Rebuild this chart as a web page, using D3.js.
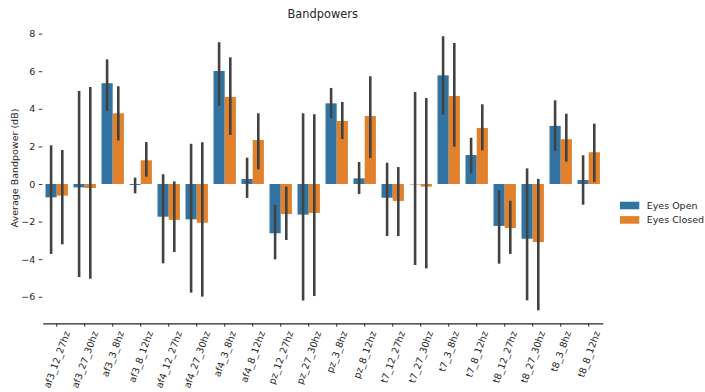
<!DOCTYPE html>
<html>
<head>
<meta charset="utf-8">
<script src="https://cdnjs.cloudflare.com/ajax/libs/d3/7.8.5/d3.min.js"></script>
<style>
  body { margin: 0; background: #fff; }
  svg text { font-family: "DejaVu Sans", sans-serif; fill: #262626; }
</style>
</head>
<body>
<svg id="chart"></svg>
<script>
const width = 705;
const height = 392;

const categories = ["af3_12_27hz", "af3_27_30hz", "af3_3_8hz", "af3_8_12hz",
    "af4_12_27hz", "af4_27_30hz", "af4_3_8hz", "af4_8_12hz",
    "pz_12_27hz", "pz_27_30hz", "pz_3_8hz", "pz_8_12hz",
    "t7_12_27hz", "t7_27_30hz", "t7_3_8hz", "t7_8_12hz",
    "t8_12_27hz", "t8_27_30hz", "t8_3_8hz", "t8_8_12hz"];
const series = ["Eyes Open", "Eyes Closed"];
const colors = ["#3274a1", "#e1812c"];

// mean values
const openMean   = [-0.71, -0.18, 5.36, -0.05, -1.74, -1.88, 6.01, 0.27, -2.62, -1.63, 4.29, 0.30, -0.73, -0.02, 5.78, 1.54, -2.23, -2.91, 3.09, 0.21];
const closedMean = [-0.62, -0.21, 3.76, 1.26, -1.91, -2.06, 4.63, 2.34, -1.60, -1.54, 3.35, 3.62, -0.90, -0.14, 4.68, 2.98, -2.34, -3.09, 2.38, 1.69];
// confidence intervals
const openLow    = [-3.72, -4.95, 3.88, -0.50, -4.22, -5.78, 4.15, -0.74, -4.01, -6.20, 3.49, -0.53, -2.77, -4.31, 3.69, 0.55, -4.24, -6.19, 1.76, -1.10];
const openHigh   = [2.06, 4.95, 6.63, 0.34, 0.52, 2.14, 7.54, 1.40, -1.10, 3.76, 5.11, 1.17, 1.13, 4.89, 7.86, 2.46, -0.32, 0.83, 4.45, 1.53];
const closedLow  = [-3.21, -5.04, 2.32, 0.39, -3.62, -5.99, 2.61, 0.78, -2.98, -5.96, 2.39, 1.38, -2.77, -4.49, 1.98, 1.79, -3.72, -6.72, 1.19, 0.11];
const closedHigh = [1.81, 5.16, 5.20, 2.23, 0.14, 2.22, 6.74, 3.76, -0.14, 3.71, 4.36, 5.73, 0.90, 4.57, 7.50, 4.24, -0.89, 0.27, 3.74, 3.21];

const yTicks = [-6, -4, -2, 0, 2, 4, 6, 8];

const svg = d3.select("#chart")
    .attr("width", width)
    .attr("height", height);

const x = d3.scaleBand()
    .domain(categories)
    .range([42.7, 602.7])
    .padding(0);

const y = d3.scaleLinear()
    .domain([-7.41, 8.3])
    .range([323.3, 27.96]);

const hue = d3.scaleBand()
    .domain(series)
    .range([0, x.bandwidth() * 0.8]);

const rows = [];
categories.forEach((c, i) => {
    rows.push({cat: c, s: series[0], v: openMean[i], lo: openLow[i], hi: openHigh[i]});
    rows.push({cat: c, s: series[1], v: closedMean[i], lo: closedLow[i], hi: closedHigh[i]});
});
const offset = x.bandwidth() * 0.1;

// bars
svg.append("g")
    .selectAll("rect")
    .data(rows)
    .join("rect")
    .attr("x", d => x(d.cat) + offset + hue(d.s))
    .attr("width", hue.bandwidth())
    .attr("y", d => y(Math.max(0, d.v)))
    .attr("height", d => Math.abs(y(d.v) - y(0)))
    .attr("fill", d => colors[series.indexOf(d.s)]);

// error bars
svg.append("g")
    .selectAll("line")
    .data(rows)
    .join("line")
    .attr("x1", d => x(d.cat) + offset + hue(d.s) + hue.bandwidth() / 2)
    .attr("x2", d => x(d.cat) + offset + hue(d.s) + hue.bandwidth() / 2)
    .attr("y1", d => y(d.lo))
    .attr("y2", d => y(d.hi))
    .attr("stroke", "#424242")
    .attr("stroke-width", 2.6);

// y axis (no spine)
const yAxis = svg.append("g")
    .attr("transform", "translate(42.3,0)")
    .call(d3.axisLeft(y).tickValues(yTicks).tickSize(3.5).tickPadding(3.5)
        .tickFormat(d => String(d).replace("-", "\u2212")));
yAxis.select(".domain").remove();
yAxis.selectAll("line").attr("stroke", "#262626").attr("stroke-width", 0.9);
yAxis.selectAll("text").attr("font-size", "9.5px").attr("fill", "#262626")
    .style("font-family", "'DejaVu Sans', sans-serif");

// x axis
const xAxis = svg.append("g")
    .attr("transform", "translate(0,323.3)")
    .call(d3.axisBottom(x).tickSize(3.5).tickSizeOuter(0));
xAxis.select(".domain").attr("stroke", "#262626").attr("stroke-width", 1.2);
xAxis.selectAll("line").attr("stroke", "#262626").attr("stroke-width", 0.9);
xAxis.selectAll("text").remove();

const angle = 70;
const rad = angle * Math.PI / 180;
const labels = svg.append("g")
    .selectAll("g")
    .data(categories)
    .join("g");
labels.append("text")
    .attr("text-anchor", "middle")
    .attr("dominant-baseline", "central")
    .attr("font-size", "9.5px")
    .text(d => d);
labels.attr("transform", function(d) {
    const L = this.querySelector("text").getComputedTextLength();
    const h = 11;
    const half = (L * Math.sin(rad) + h * Math.cos(rad)) / 2;
    return `translate(${x(d) + x.bandwidth() / 2},${329.5 + half}) rotate(${-angle})`;
});

// title
svg.append("text")
    .attr("x", (42.7 + 602.7) / 2)
    .attr("y", 18.3)
    .attr("text-anchor", "middle")
    .attr("font-size", "11.4px")
    .text("Bandpowers");

// y label
svg.append("text")
    .attr("transform", `translate(17.5,${y(0.85)}) rotate(-90)`)
    .attr("text-anchor", "middle")
    .attr("font-size", "9.5px")
    .text("Average Bandpower (dB)");

// legend
const legend = svg.append("g")
    .selectAll("g")
    .data(series)
    .join("g")
    .attr("transform", (d, i) => `translate(620,${201.7 + i * 14.4})`);
legend.append("rect")
    .attr("width", 19.3)
    .attr("height", 7.6)
    .attr("fill", (d, i) => colors[i]);
legend.append("text")
    .attr("x", 26.7)
    .attr("y", 3.8)
    .attr("dominant-baseline", "central")
    .attr("font-size", "9.5px")
    .text(d => d);
</script>
</body>
</html>
